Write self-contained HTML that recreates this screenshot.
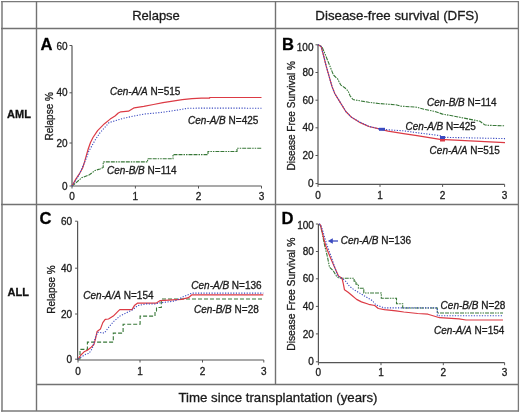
<!DOCTYPE html>
<html><head><meta charset="utf-8"><style>
html,body{margin:0;padding:0;background:#fff;width:520px;height:413px;overflow:hidden}
svg{display:block;filter:blur(0.35px)}
text{font-family:"Liberation Sans",sans-serif;stroke:#222;stroke-width:0.3px;paint-order:stroke}
</style></head><body>
<svg width="520" height="413" viewBox="0 0 520 413">
<rect width="520" height="413" fill="#fff"/>
<line x1="1" y1="1.7" x2="519" y2="1.7" stroke="#7a7a7a" stroke-width="1.3"/>
<line x1="2" y1="1" x2="2" y2="411.6" stroke="#7a7a7a" stroke-width="1.5"/>
<line x1="518.4" y1="1" x2="518.4" y2="411.6" stroke="#7a7a7a" stroke-width="1.3"/>
<line x1="1" y1="411" x2="519" y2="411" stroke="#7a7a7a" stroke-width="1.3"/>
<line x1="36.5" y1="1" x2="36.5" y2="411" stroke="#727272" stroke-width="1.4"/>
<line x1="275.5" y1="1" x2="275.5" y2="384.5" stroke="#727272" stroke-width="1.4"/>
<line x1="1" y1="28.5" x2="518" y2="28.5" stroke="#727272" stroke-width="1.4"/>
<line x1="1" y1="204.5" x2="518" y2="204.5" stroke="#727272" stroke-width="1.4"/>
<line x1="36" y1="384.5" x2="518" y2="384.5" stroke="#727272" stroke-width="1.4"/>
<text x="156" y="20" font-size="13" text-anchor="middle" fill="#1a1a1a">Relapse</text>
<text x="397" y="20" font-size="13.3" text-anchor="middle" fill="#1a1a1a">Disease-free survival (DFS)</text>
<text x="19" y="117.7" font-size="11" font-weight="bold" text-anchor="middle" fill="#111">AML</text>
<text x="18.2" y="295.8" font-size="11" font-weight="bold" text-anchor="middle" fill="#111">ALL</text>
<text x="278" y="402.2" font-size="13.25" text-anchor="middle" fill="#1a1a1a">Time since transplantation (years)</text>
<line x1="72" y1="45.5" x2="72" y2="186" stroke="#555" stroke-width="1.2"/>
<line x1="72" y1="186" x2="261.5" y2="186" stroke="#555" stroke-width="1.2"/>
<line x1="69.5" y1="45.5" x2="72" y2="45.5" stroke="#555" stroke-width="1"/>
<text x="67.5" y="50.1" font-size="10" text-anchor="end" fill="#1a1a1a">60</text>
<line x1="69.5" y1="92.8" x2="72" y2="92.8" stroke="#555" stroke-width="1"/>
<text x="67.5" y="96.39999999999999" font-size="10" text-anchor="end" fill="#1a1a1a">40</text>
<line x1="69.5" y1="143" x2="72" y2="143" stroke="#555" stroke-width="1"/>
<text x="67.5" y="146.6" font-size="10" text-anchor="end" fill="#1a1a1a">20</text>
<line x1="69.5" y1="186" x2="72" y2="186" stroke="#555" stroke-width="1"/>
<text x="67.5" y="189.6" font-size="10" text-anchor="end" fill="#1a1a1a">0</text>
<line x1="72" y1="186" x2="72" y2="188.5" stroke="#555" stroke-width="1"/>
<text x="72" y="199.5" font-size="10" text-anchor="middle" fill="#1a1a1a">0</text>
<line x1="135.4" y1="186" x2="135.4" y2="188.5" stroke="#555" stroke-width="1"/>
<text x="135.4" y="199.5" font-size="10" text-anchor="middle" fill="#1a1a1a">1</text>
<line x1="198.5" y1="186" x2="198.5" y2="188.5" stroke="#555" stroke-width="1"/>
<text x="198.5" y="199.5" font-size="10" text-anchor="middle" fill="#1a1a1a">2</text>
<line x1="261.5" y1="186" x2="261.5" y2="188.5" stroke="#555" stroke-width="1"/>
<text x="261.5" y="199.5" font-size="10" text-anchor="middle" fill="#1a1a1a">3</text>
<text transform="translate(52.5,116.3) rotate(-90)" font-size="10" text-anchor="middle" fill="#1a1a1a">Relapse %</text>
<text x="40.5" y="50.3" font-size="16.6" font-weight="bold" fill="#000">A</text>
<polyline points="72.0,186.0 75.8,183.0 81.7,177.7 89.4,174.8 95.2,170.4 100.0,168.9 103.2,167.5 103.2,161.9 147.6,161.9 147.6,158.8 173.0,158.8 173.0,154.6 208.0,154.6 208.0,151.5 237.0,151.5 237.0,148.3 261.5,148.3" fill="none" stroke="#387838" stroke-width="1.1" stroke-dasharray="4 1 4 1 1.5 1 1.5 1"/>
<polyline points="72.0,186.0 75.8,179.1 79.7,173.3 82.6,168.0 84.6,161.7 86.5,154.9 88.2,149.0 90.5,142.5 93.0,137.5 97.6,130.6 104.5,123.7 110.2,119.1 115.0,116.0 118.3,113.0 120.8,111.8 128.5,111.2 134.2,107.8 143.8,106.4 153.5,104.5 163.0,102.6 172.7,101.2 182.3,99.7 192.0,98.7 201.5,98.2 209.6,98.2 209.6,97.5 261.5,97.5" fill="none" stroke="#dc3a44" stroke-width="1.2" stroke-linejoin="round"/>
<polyline points="72.0,186.0 76.0,180.0 80.0,173.0 83.6,164.6 86.5,157.8 88.9,151.0 90.7,147.9 95.3,139.8 99.9,132.9 109.1,122.6 115.0,120.8 124.6,118.0 134.2,116.0 143.8,114.1 153.5,113.2 163.0,112.2 172.7,110.8 188.0,108.3 201.5,108.1 261.5,108.2" fill="none" stroke="#3a4ac0" stroke-width="1.1" stroke-dasharray="1.2 1.5"/>
<text x="110" y="94.7" font-size="10" fill="#1a1a1a"><tspan font-style="italic">Cen-A/A</tspan> N=515</text>
<text x="188" y="124" font-size="10" fill="#1a1a1a"><tspan font-style="italic">Cen-A/B</tspan> N=425</text>
<text x="107" y="173.7" font-size="10" fill="#1a1a1a"><tspan font-style="italic">Cen-B/B</tspan> N=114</text>
<line x1="318" y1="44.8" x2="318" y2="184.4" stroke="#555" stroke-width="1.2"/>
<line x1="318" y1="184.4" x2="504.6" y2="184.4" stroke="#555" stroke-width="1.2"/>
<line x1="315.5" y1="44.8" x2="318" y2="44.8" stroke="#555" stroke-width="1"/>
<text x="313.5" y="50.6" font-size="10" text-anchor="end" fill="#1a1a1a">100</text>
<line x1="315.5" y1="72.5" x2="318" y2="72.5" stroke="#555" stroke-width="1"/>
<text x="313.5" y="76.1" font-size="10" text-anchor="end" fill="#1a1a1a">80</text>
<line x1="315.5" y1="100.2" x2="318" y2="100.2" stroke="#555" stroke-width="1"/>
<text x="313.5" y="103.8" font-size="10" text-anchor="end" fill="#1a1a1a">60</text>
<line x1="315.5" y1="127.8" x2="318" y2="127.8" stroke="#555" stroke-width="1"/>
<text x="313.5" y="131.4" font-size="10" text-anchor="end" fill="#1a1a1a">40</text>
<line x1="315.5" y1="155.5" x2="318" y2="155.5" stroke="#555" stroke-width="1"/>
<text x="313.5" y="159.1" font-size="10" text-anchor="end" fill="#1a1a1a">20</text>
<line x1="315.5" y1="183.6" x2="318" y2="183.6" stroke="#555" stroke-width="1"/>
<text x="313.5" y="187.2" font-size="10" text-anchor="end" fill="#1a1a1a">0</text>
<line x1="318" y1="184.4" x2="318" y2="186.9" stroke="#555" stroke-width="1"/>
<text x="318" y="199" font-size="10" text-anchor="middle" fill="#1a1a1a">0</text>
<line x1="380" y1="184.4" x2="380" y2="186.9" stroke="#555" stroke-width="1"/>
<text x="380" y="199" font-size="10" text-anchor="middle" fill="#1a1a1a">1</text>
<line x1="442.6" y1="184.4" x2="442.6" y2="186.9" stroke="#555" stroke-width="1"/>
<text x="442.6" y="199" font-size="10" text-anchor="middle" fill="#1a1a1a">2</text>
<line x1="504.6" y1="184.4" x2="504.6" y2="186.9" stroke="#555" stroke-width="1"/>
<text x="504.6" y="199" font-size="10" text-anchor="middle" fill="#1a1a1a">3</text>
<text transform="translate(294.5,115.8) rotate(-90)" font-size="10" text-anchor="middle" fill="#1a1a1a">Disease Free Survival %</text>
<text x="282" y="50.4" font-size="16.6" font-weight="bold" fill="#000">B</text>
<polyline points="318.0,44.8 321.8,46.5 324.7,53.1 327.6,60.3 330.5,67.6 333.4,74.9 337.8,79.2 340.7,85.0 345.1,88.0 348.0,90.9 350.2,96.0 353.1,99.6 356.6,100.2 368.8,102.3 378.5,103.5 395.8,104.8 400.5,106.1 417.0,107.2 424.0,109.3 434.6,111.4 442.6,114.1 453.3,116.0 466.6,118.6 480.0,121.3 484.6,124.8 488.0,125.3 505.0,125.8" fill="none" stroke="#387838" stroke-width="1.1" stroke-dasharray="4 1 4 1 1.5 1 1.5 1"/>
<polyline points="318.0,44.8 321.1,46.5 323.3,54.5 326.2,66.2 329.1,76.3 332.0,86.5 334.9,93.8 338.5,99.6 345.8,111.5 351.5,117.3 359.2,122.1 368.8,126.5 380.4,129.2 388.0,131.2 403.5,133.7 417.0,135.6 440.0,139.4 480.0,141.3 505.0,142.6" fill="none" stroke="#dc3a44" stroke-width="1.2" stroke-linejoin="round"/>
<polyline points="318.0,44.8 321.1,46.5 323.3,54.5 326.2,66.2 329.1,76.3 332.0,86.5 334.9,93.8 338.5,99.6 345.8,111.3 351.5,117.1 359.2,121.9 368.8,126.3 380.4,129.2 388.0,129.8 403.5,130.8 417.0,132.7 440.0,135.6 442.6,137.3 505.0,138.6" fill="none" stroke="#3a4ac0" stroke-width="1.1" stroke-dasharray="1.2 1.5"/>
<rect x="379" y="127.8" width="6" height="3" fill="#3a4ac0"/>
<rect x="440" y="136" width="5" height="3" fill="#3a4ac0"/>
<rect x="440" y="139" width="5" height="2.5" fill="#dc3a44"/>
<text x="427" y="106" font-size="10" fill="#1a1a1a"><tspan font-style="italic">Cen-B/B</tspan> N=114</text>
<text x="405.5" y="130" font-size="10" fill="#1a1a1a"><tspan font-style="italic">Cen-A/B</tspan> N=425</text>
<text x="429.6" y="154.4" font-size="10" fill="#1a1a1a"><tspan font-style="italic">Cen-A/A</tspan> N=515</text>
<line x1="77.6" y1="221.2" x2="77.6" y2="360" stroke="#555" stroke-width="1.2"/>
<line x1="77.6" y1="360" x2="263.8" y2="360" stroke="#555" stroke-width="1.2"/>
<line x1="75.1" y1="221.2" x2="77.6" y2="221.2" stroke="#555" stroke-width="1"/>
<text x="72.0" y="224.79999999999998" font-size="10" text-anchor="end" fill="#1a1a1a">60</text>
<line x1="75.1" y1="268.2" x2="77.6" y2="268.2" stroke="#555" stroke-width="1"/>
<text x="72.0" y="271.8" font-size="10" text-anchor="end" fill="#1a1a1a">40</text>
<line x1="75.1" y1="314" x2="77.6" y2="314" stroke="#555" stroke-width="1"/>
<text x="72.0" y="317.6" font-size="10" text-anchor="end" fill="#1a1a1a">20</text>
<line x1="75.1" y1="359.2" x2="77.6" y2="359.2" stroke="#555" stroke-width="1"/>
<text x="72.0" y="362.8" font-size="10" text-anchor="end" fill="#1a1a1a">0</text>
<line x1="78" y1="360" x2="78" y2="362.5" stroke="#555" stroke-width="1"/>
<text x="78" y="374.6" font-size="10" text-anchor="middle" fill="#1a1a1a">0</text>
<line x1="140" y1="360" x2="140" y2="362.5" stroke="#555" stroke-width="1"/>
<text x="140" y="374.6" font-size="10" text-anchor="middle" fill="#1a1a1a">1</text>
<line x1="202.5" y1="360" x2="202.5" y2="362.5" stroke="#555" stroke-width="1"/>
<text x="202.5" y="374.6" font-size="10" text-anchor="middle" fill="#1a1a1a">2</text>
<line x1="263.8" y1="360" x2="263.8" y2="362.5" stroke="#555" stroke-width="1"/>
<text x="263.8" y="374.6" font-size="10" text-anchor="middle" fill="#1a1a1a">3</text>
<text transform="translate(54.5,289.5) rotate(-90)" font-size="10" text-anchor="middle" fill="#1a1a1a">Relapse %</text>
<text x="39.5" y="223.6" font-size="16.6" font-weight="bold" fill="#000">C</text>
<polyline points="78.0,359.0 80.0,359.0 80.0,349.4 87.4,349.4 87.4,342.1 113.3,342.1 113.3,333.1 123.1,333.1 123.1,324.2 140.1,324.2 140.1,316.1 155.0,316.1 155.0,311.0 156.5,311.0 156.5,307.5 161.3,307.5 161.3,299.0 263.3,299.0 263.3,299.0" fill="none" stroke="#387838" stroke-width="1.1" stroke-dasharray="4 2"/>
<polyline points="78.0,359.1 80.9,355.0 84.1,351.8 87.4,350.2 90.6,347.8 93.9,344.5 95.5,338.8 97.1,331.5 100.4,329.1 102.8,322.6 105.2,319.4 108.5,319.0 113.3,316.1 118.2,311.2 119.8,309.6 132.0,309.6 134.4,305.6 137.7,303.1 156.1,303.2 160.2,300.6 181.5,299.4 188.4,297.7 191.9,294.8 263.3,294.8" fill="none" stroke="#dc3a44" stroke-width="1.2" stroke-linejoin="round"/>
<polyline points="78.0,359.0 85.7,354.3 89.0,353.4 92.2,348.6 95.5,337.2 97.9,332.3 104.4,333.1 108.5,327.5 113.3,321.8 119.8,316.1 124.7,313.7 129.6,311.2 132.8,309.6 137.7,305.6 146.0,303.9 155.0,304.0 159.6,302.9 174.6,301.1 183.8,296.5 191.9,293.1 263.3,293.1" fill="none" stroke="#3a4ac0" stroke-width="1.1" stroke-dasharray="1.2 1.5"/>
<text x="83.2" y="298.5" font-size="10" fill="#1a1a1a"><tspan font-style="italic">Cen-A/A</tspan> N=154</text>
<text x="191.3" y="288.7" font-size="10" fill="#1a1a1a"><tspan font-style="italic">Cen-A/B</tspan> N=136</text>
<text x="194" y="313.2" font-size="10" fill="#1a1a1a"><tspan font-style="italic">Cen-B/B</tspan> N=28</text>
<line x1="318.4" y1="224" x2="318.4" y2="362.7" stroke="#555" stroke-width="1.2"/>
<line x1="318.4" y1="362.7" x2="504.6" y2="362.7" stroke="#555" stroke-width="1.2"/>
<line x1="315.9" y1="224" x2="318.4" y2="224" stroke="#555" stroke-width="1"/>
<text x="313.9" y="228.6" font-size="10" text-anchor="end" fill="#1a1a1a">100</text>
<line x1="315.9" y1="251.5" x2="318.4" y2="251.5" stroke="#555" stroke-width="1"/>
<text x="313.9" y="255.1" font-size="10" text-anchor="end" fill="#1a1a1a">80</text>
<line x1="315.9" y1="278.8" x2="318.4" y2="278.8" stroke="#555" stroke-width="1"/>
<text x="313.9" y="282.40000000000003" font-size="10" text-anchor="end" fill="#1a1a1a">60</text>
<line x1="315.9" y1="306.4" x2="318.4" y2="306.4" stroke="#555" stroke-width="1"/>
<text x="313.9" y="310.0" font-size="10" text-anchor="end" fill="#1a1a1a">40</text>
<line x1="315.9" y1="333.9" x2="318.4" y2="333.9" stroke="#555" stroke-width="1"/>
<text x="313.9" y="337.5" font-size="10" text-anchor="end" fill="#1a1a1a">20</text>
<line x1="315.9" y1="361.8" x2="318.4" y2="361.8" stroke="#555" stroke-width="1"/>
<text x="313.9" y="365.40000000000003" font-size="10" text-anchor="end" fill="#1a1a1a">0</text>
<line x1="318.4" y1="362.7" x2="318.4" y2="365.2" stroke="#555" stroke-width="1"/>
<text x="318.4" y="376.3" font-size="10" text-anchor="middle" fill="#1a1a1a">0</text>
<line x1="381" y1="362.7" x2="381" y2="365.2" stroke="#555" stroke-width="1"/>
<text x="381" y="376.3" font-size="10" text-anchor="middle" fill="#1a1a1a">1</text>
<line x1="443.3" y1="362.7" x2="443.3" y2="365.2" stroke="#555" stroke-width="1"/>
<text x="443.3" y="376.3" font-size="10" text-anchor="middle" fill="#1a1a1a">2</text>
<line x1="504.6" y1="362.7" x2="504.6" y2="365.2" stroke="#555" stroke-width="1"/>
<text x="504.6" y="376.3" font-size="10" text-anchor="middle" fill="#1a1a1a">3</text>
<text transform="translate(294.5,294.2) rotate(-90)" font-size="10.35" text-anchor="middle" fill="#1a1a1a">Disease Free Survival %</text>
<text x="281.5" y="223.8" font-size="16.6" font-weight="bold" fill="#000">D</text>
<polyline points="319.0,224.0 320.5,226.0 322.0,232.0 323.5,240.0 325.0,247.0 327.0,255.0 328.5,262.0 329.5,267.2 333.4,271.0 336.3,276.0 338.4,277.7 342.0,278.3 354.1,278.3 354.1,281.3 356.0,281.3 356.0,284.3 358.4,284.3 358.4,288.3 363.8,288.3 363.8,293.0 381.3,293.0 381.3,298.2 396.5,298.2 396.5,303.8 402.7,303.8 402.7,308.0 437.3,308.0 437.3,313.0 503.0,313.0" fill="none" stroke="#387838" stroke-width="1.1" stroke-dasharray="4 1 4 1 1.5 1 1.5 1"/>
<polyline points="319.0,224.0 320.5,225.0 322.0,231.0 324.0,239.5 326.0,246.5 328.5,253.0 331.0,259.0 334.9,268.0 338.5,276.0 342.0,278.3 343.3,283.7 344.5,289.8 348.1,292.2 351.7,295.2 356.6,299.4 361.4,301.9 368.7,304.3 374.7,305.5 378.3,308.5 384.4,309.7 396.0,310.9 403.8,312.0 417.7,313.5 428.0,314.2 439.6,317.7 459.0,318.8 466.0,320.0 503.0,320.0" fill="none" stroke="#dc3a44" stroke-width="1.2" stroke-linejoin="round"/>
<polyline points="319.0,224.0 320.5,224.5 322.5,230.0 324.5,237.0 327.0,245.0 329.5,252.0 332.0,259.0 333.6,264.0 337.8,276.0 342.0,278.3 345.7,281.3 349.3,286.1 354.1,289.8 360.2,293.4 366.2,297.0 372.3,300.6 375.9,304.9 384.4,307.9 437.3,307.9 437.3,315.8 503.0,315.8" fill="none" stroke="#3a4ac0" stroke-width="1.1" stroke-dasharray="1.2 1.5"/>
<line x1="338" y1="241" x2="331" y2="241" stroke="#3a4ac0" stroke-width="1.3"/>
<path d="M327.8,241 L332.8,238.2 L332.8,243.8 Z" fill="#3a4ac0"/>
<text x="340.7" y="243.8" font-size="10" fill="#1a1a1a"><tspan font-style="italic">Cen-A/B</tspan> N=136</text>
<text x="440.6" y="309.2" font-size="10" fill="#1a1a1a"><tspan font-style="italic">Cen-B/B</tspan> N=28</text>
<text x="434" y="334" font-size="10" fill="#1a1a1a"><tspan font-style="italic">Cen-A/A</tspan> N=154</text>
</svg>
</body></html>
